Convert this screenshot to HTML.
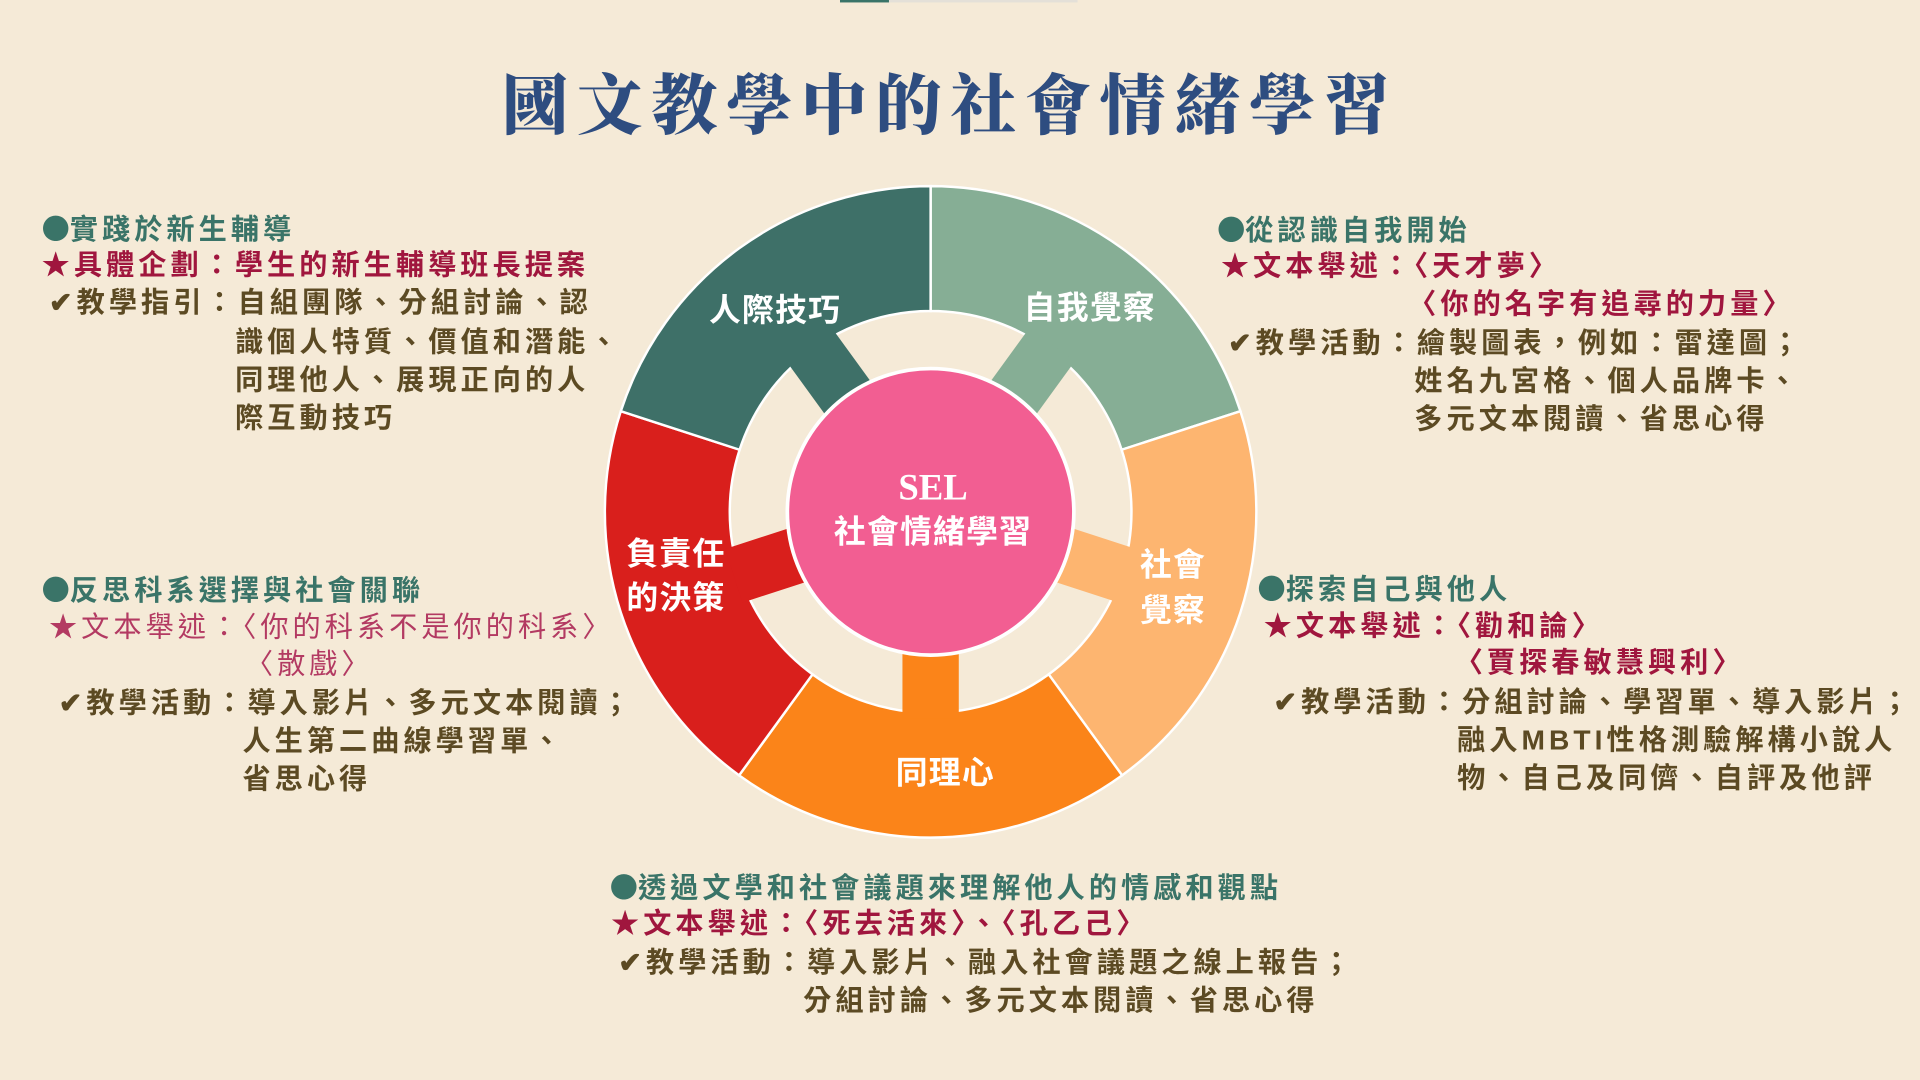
<!DOCTYPE html>
<html><head><meta charset="utf-8">
<style>
html,body{margin:0;padding:0;background:#f5ead7;}
#w{position:relative;width:1568px;height:882px;transform:scale(1.22449);transform-origin:0 0;overflow:hidden;background:#f5ead7;}
.t{position:absolute;white-space:nowrap;font-family:"Liberation Sans","Noto Sans CJK TC",sans-serif;font-size:23px;line-height:28px;letter-spacing:3.3px;}
.t b{font-family:"Noto Sans CJK TC",sans-serif;font-weight:normal;letter-spacing:0;}
.h{color:#3a7468;font-weight:bold;}
.s{color:#a0163e;font-weight:bold;}
.s2{color:#b33a62;}
.c{color:#5c4a23;font-weight:bold;}
.title{position:absolute;left:410px;top:44px;font-family:"Noto Serif CJK SC","Noto Serif CJK TC",serif;font-weight:900;font-size:54px;letter-spacing:7px;color:#2e4d80;white-space:nowrap;}
</style></head><body>
<div id="w">
<div style="position:absolute;left:686px;top:0;width:40px;height:2px;background:#3a7468"></div>
<div style="position:absolute;left:726px;top:0;width:154px;height:2px;background:#e4e0d8"></div>
<div class="title">國文教學中的社會情緒學習</div>

<svg style="position:absolute;left:0;top:0" width="1568" height="882">
<g stroke="#fff" stroke-width="2">
<path d="M760 152 A266 266 0 0 1 1013 335.8 L916 367.3 A164 164 0 0 0 760 254 Z" fill="#86ae95"/>
<path d="M1013 335.8 A266 266 0 0 1 916.4 633.2 L856.4 550.7 A164 164 0 0 0 916 367.3 Z" fill="#fdb570"/>
<path d="M916.4 633.2 A266 266 0 0 1 603.6 633.2 L663.6 550.7 A164 164 0 0 0 856.4 550.7 Z" fill="#fb8419"/>
<path d="M603.6 633.2 A266 266 0 0 1 507 335.8 L604 367.3 A164 164 0 0 0 663.6 550.7 Z" fill="#d91f1c"/>
<path d="M507 335.8 A266 266 0 0 1 760 152 L760 254 A164 164 0 0 0 604 367.3 Z" fill="#3e7068"/>
</g>
<g>
<rect x="737" y="249" width="46" height="70" fill="#86ae95" transform="rotate(36 760 418)"/>
<rect x="737" y="249" width="46" height="70" fill="#fdb570" transform="rotate(108 760 418)"/>
<rect x="737" y="249" width="46" height="70" fill="#fb8419" transform="rotate(180 760 418)"/>
<rect x="737" y="249" width="46" height="70" fill="#d91f1c" transform="rotate(252 760 418)"/>
<rect x="737" y="249" width="46" height="70" fill="#3e7068" transform="rotate(324 760 418)"/>
</g>
<circle cx="760" cy="418" r="117" fill="#f25e92" stroke="#fff" stroke-width="3"/>
<g font-family="Liberation Sans,Noto Sans CJK TC,sans-serif" fill="#fff" font-size="26" font-weight="bold" text-anchor="middle" letter-spacing="1">
<text x="633" y="262">人際技巧</text>
<text x="890" y="260">自我覺察</text>
<text x="958" y="470">社會</text>
<text x="958" y="507">覺察</text>
<text x="772" y="640">同理心</text>
<text x="552" y="461">負責任</text>
<text x="552" y="497">的決策</text>
<text x="762" y="443">社會情緒學習</text>
</g>
<text x="762" y="408" font-family="Liberation Serif,serif" font-size="30" font-weight="bold" fill="#fff" text-anchor="middle">SEL</text>
</svg>

<div class="t h" style="left:34px;top:171px"><b>●</b>實踐於新生輔導</div>
<div class="t s" style="left:34px;top:202px">★具體企劃：學生的新生輔導班長提案</div>
<div class="t c" style="left:40px;top:233px">✔教學指引：自組團隊、分組討論、認</div>
<div class="t c" style="left:192px;top:265px">識個人特質、價值和潛能、</div>
<div class="t c" style="left:192px;top:296px">同理他人、展現正向的人</div>
<div class="t c" style="left:192px;top:327px">際互動技巧</div>

<div class="t h" style="left:994px;top:172px"><b>●</b>從認識自我開始</div>
<div class="t s" style="left:997px;top:203px">★文本舉述：〈天才夢〉</div>
<div class="t s" style="left:1150px;top:234px">〈你的名字有追尋的力量〉</div>
<div class="t c" style="left:1003px;top:266px">✔教學活動：繪製圖表，例如：雷達圖；</div>
<div class="t c" style="left:1155px;top:297px">姓名九宮格、個人品牌卡、</div>
<div class="t c" style="left:1155px;top:328px">多元文本閱讀、省思心得</div>

<div class="t h" style="left:34px;top:466px"><b>●</b>反思科系選擇與社會關聯</div>
<div class="t s2" style="left:40px;top:498px">★文本舉述：〈你的科系不是你的科系〉</div>
<div class="t s2" style="left:200px;top:528px">〈散戲〉</div>
<div class="t c" style="left:48px;top:560px">✔教學活動：導入影片、多元文本閱讀；</div>
<div class="t c" style="left:198px;top:591px">人生第二曲線學習單、</div>
<div class="t c" style="left:198px;top:622px">省思心得</div>

<div class="t h" style="left:1027px;top:465px"><b>●</b>探索自己與他人</div>
<div class="t s" style="left:1032px;top:497px">★文本舉述：〈勸和論〉</div>
<div class="t s" style="left:1188px;top:527px">〈賈探春敏慧興利〉</div>
<div class="t c" style="left:1040px;top:559px">✔教學活動：分組討論、學習單、導入影片；</div>
<div class="t c" style="left:1190px;top:590px">融入MBTI性格測驗解構小說人</div>
<div class="t c" style="left:1190px;top:621px">物、自己及同儕、自評及他評</div>

<div class="t h" style="left:498px;top:709px"><b>●</b>透過文學和社會議題來理解他人的情感和觀點</div>
<div class="t s" style="left:499px;top:740px">★文本舉述：〈死去活來〉、〈孔乙己〉</div>
<div class="t c" style="left:505px;top:772px">✔教學活動：導入影片、融入社會議題之線上報告；</div>
<div class="t c" style="left:656px;top:803px">分組討論、多元文本閱讀、省思心得</div>
</div>
</body></html>
